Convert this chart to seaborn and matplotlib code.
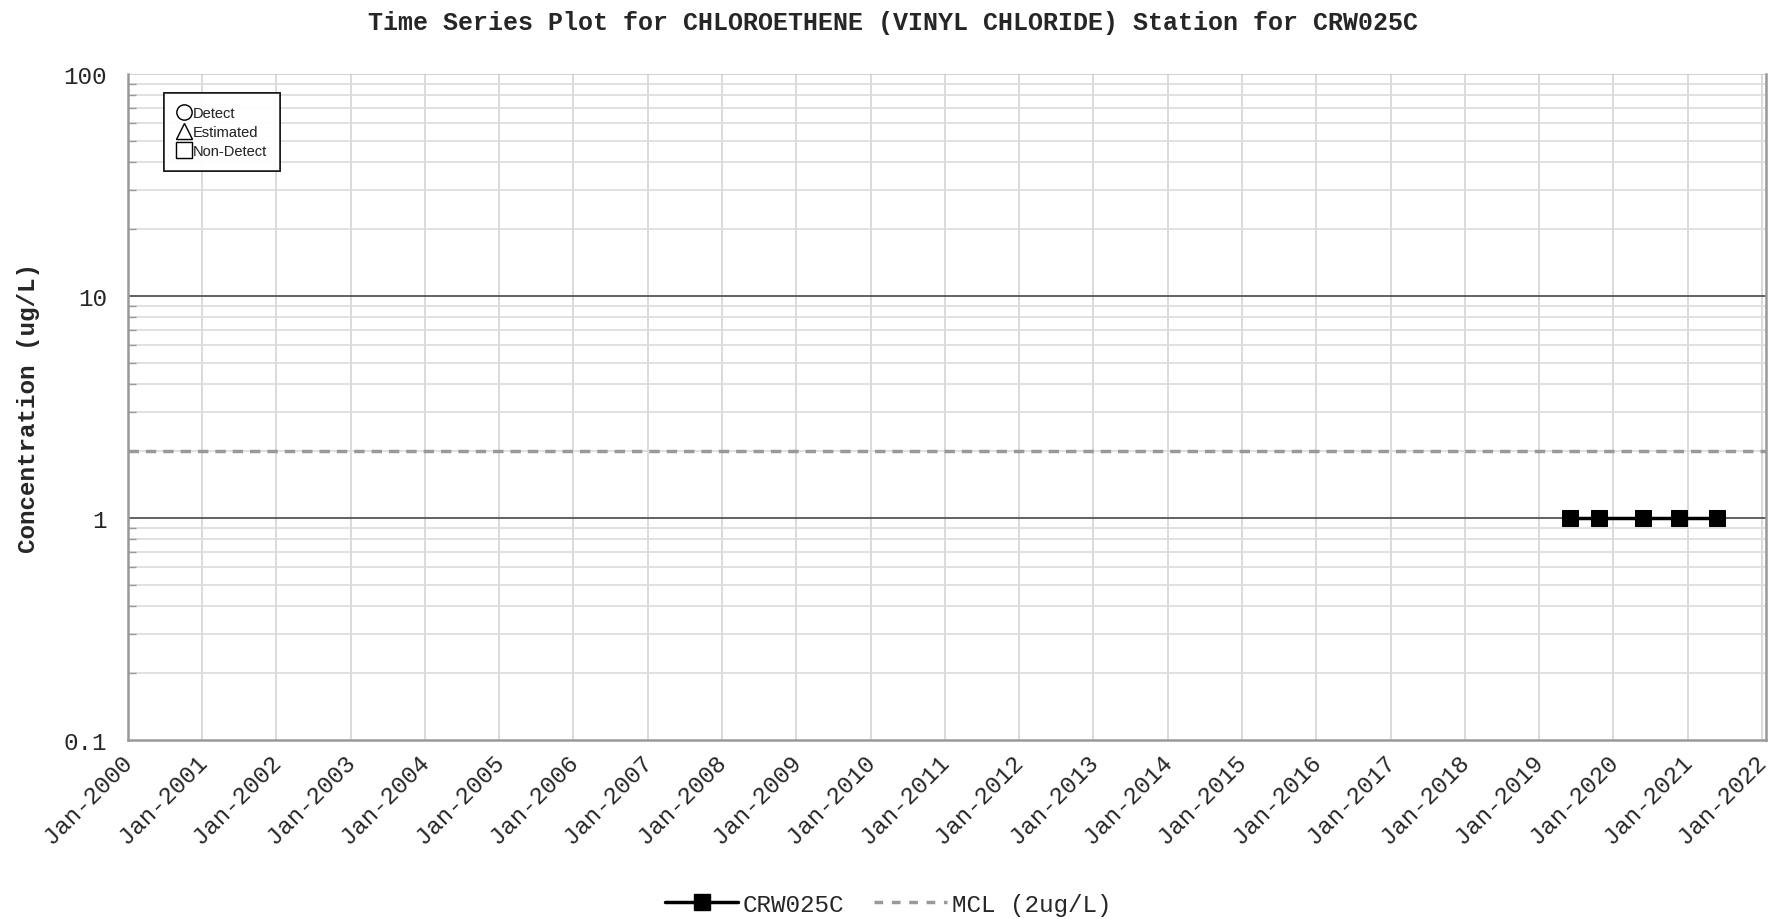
import pandas as pd
import seaborn as sns
import matplotlib.pyplot as plt
import matplotlib.dates as mdates
import matplotlib.transforms as mtrans
from matplotlib.lines import Line2D
from matplotlib.ticker import FixedLocator, FuncFormatter, LogLocator, NullFormatter

# sample data
sample_dates = ["2019-06-05", "2019-10-23", "2020-05-28", "2020-11-20", "2021-05-26"]
concentrations = [1, 1, 1, 1, 1]
station = "CRW025C"
mcl_value = 2
y_ticks = [0.1, 1, 10, 100]

df = pd.DataFrame({"Date": pd.to_datetime(sample_dates), "Conc": concentrations})

sns.set_style("white")
plt.rcParams['font.family'] = ['Liberation Mono', 'DejaVu Sans Mono']

fig = plt.figure(figsize=(17.87, 9.2), dpi=100)
ax = fig.add_axes([0.0715, 0.1946, 0.9168, 0.7239])

ax.set_yscale("log")
ax.set_ylim(0.1, 100)
ax.set_xlim(pd.Timestamp("2000-01-01"), pd.Timestamp("2022-01-22"))

# grid
ax.yaxis.set_minor_locator(LogLocator(base=10, subs=range(2, 10)))
ax.yaxis.set_minor_formatter(NullFormatter())
ax.grid(which="minor", axis="y", color="#dcdcdc", lw=1.2, zorder=0)
ax.xaxis.set_major_locator(mdates.YearLocator())
ax.xaxis.set_major_formatter(mdates.DateFormatter("%b-%Y"))
ax.grid(which="major", axis="x", color="#d4d4d4", lw=1.2, zorder=0)
for v in [1, 10]:
    ax.axhline(v, color="#555555", lw=1.3, zorder=1)
ax.axhline(100, color="#c8c8c8", lw=1.2, zorder=1)

ax.axhline(mcl_value, color="#999999", lw=2.5, ls=(0, (3, 2)), zorder=2)

sns.lineplot(data=df, x="Date", y="Conc", marker="s", markersize=11.5, color="black",
             lw=2.5, markeredgecolor="black", ax=ax, zorder=3, legend=False)

ax.yaxis.set_major_locator(FixedLocator(y_ticks))
ax.yaxis.set_major_formatter(FuncFormatter(lambda v, p: f"{v:g}"))
ax.tick_params(axis="y", which="major", length=8, width=1.5, color="#888888", labelsize=17.5, pad=7)
ax.tick_params(axis="y", which="minor", left=True, direction="in", length=6, width=1, color="#999999")
ax.tick_params(axis="x", which="major", length=8, width=1.2, color="#aaaaaa", labelsize=17.3, pad=5)
shift = mtrans.ScaledTranslation(-7 / 100, 8 / 100, fig.dpi_scale_trans)
for lab in ax.get_xticklabels():
    lab.set_rotation(45)
    lab.set_ha("right")
    lab.set_va("top")
    lab.set_rotation_mode("anchor")
    lab.set_transform(lab.get_transform() + shift)

for s in ax.spines.values():
    s.set_color("#999999")
    s.set_linewidth(1.8)
ax.spines["top"].set_visible(False)

ax.set_xlabel("")
ax.set_ylabel("Concentration (ug/L)", fontsize=17.5, fontweight="bold", labelpad=17)

fig.suptitle("Time Series Plot for CHLOROETHENE (VINYL CHLORIDE) Station for " + station,
             fontsize=18, fontweight="bold", y=0.988, va="top")

# symbol key inside the plot
key_handles = [
    Line2D([], [], ls="none", marker="o", mfc="white", mec="black", ms=11, label="Detect"),
    Line2D([], [], ls="none", marker="^", mfc="white", mec="black", ms=12, label="Estimated"),
    Line2D([], [], ls="none", marker="s", mfc="white", mec="black", ms=11, label="Non-Detect"),
]
key = ax.legend(handles=key_handles, loc="upper left", bbox_to_anchor=(0.022, 0.972),
                prop={"family": "Liberation Sans", "size": 10.5}, frameon=True, fancybox=False,
                edgecolor="black", handlelength=0.9, handletextpad=0.15, labelspacing=0.35,
                borderpad=0.9, borderaxespad=0)
key.get_frame().set_linewidth(1.2)
key.set_zorder(5)
ax.add_artist(key)

# series legend below the plot
series_handles = [
    Line2D([0, 1, 2], [0, 0, 0], color="black", lw=2.5, marker="s", ms=11.5, markevery=[1], label=station),
    Line2D([], [], color="#999999", lw=2.5, ls=(0, (2.5, 2.5)), label=f"MCL ({mcl_value}ug/L)"),
]
fig.legend(handles=series_handles, loc="lower center", bbox_to_anchor=(0.497, -0.02), ncol=2,
           frameon=False, fontsize=17.5, handlelength=3, handletextpad=0.2, columnspacing=1.2)

fig.savefig("out.png", dpi=100)
